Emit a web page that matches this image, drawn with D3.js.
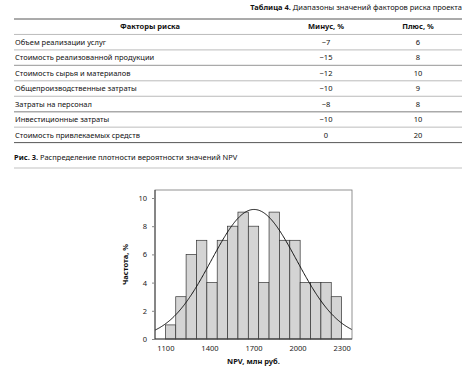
<!DOCTYPE html>
<html>
<head>
<meta charset="utf-8">
<script src="https://cdn.jsdelivr.net/npm/d3@7"></script>
<style>
  body { margin: 0; background: #fff; }
  svg { font-family: "Noto Sans", "Open Sans", sans-serif; }
</style>
</head>
<body>
<svg id="page" width="466" height="369"></svg>
<script>
// table data
var factors = ["Объем реализации услуг", "Стоимость реализованной продукции",
  "Стоимость сырья и материалов", "Общепроизводственные затраты",
  "Затраты на персонал", "Инвестиционные затраты", "Стоимость привлекаемых средств"];
var minus = ["\u22127", "\u221215", "\u221212", "\u221210", "\u22128", "\u221210", "0"];
var plus = [6, 8, 10, 9, 8, 10, 20];
var headers = ["Факторы риска", "Минус, %", "Плюс, %"];

// histogram data
var binStart = 1100, binEnd = 2300;
var freq = [1, 3, 6, 7, 4, 7, 8, 9, 8, 4, 9, 7, 7, 4, 4, 4, 3];
var xTicks = [1100, 1400, 1700, 2000, 2300];
var yTicks = [0, 2, 4, 6, 8, 10];

var svg = d3.select("#page");

// ---- table ----
var tLeft = 14, tRight = 462, tTop = 19, rowH = 15.45;
var colX = [15, 150, 326, 418];

var title = svg.append("text").attr("x", tRight).attr("y", 10)
  .attr("text-anchor", "end").attr("font-size", 7.5).attr("fill", "#111");
title.append("tspan").attr("font-weight", "bold").text("Таблица 4.");
title.append("tspan").text(" Диапазоны значений факторов риска проекта");

var nLines = factors.length + 2;
for (var i = 0; i < nLines; i++) {
  var y = tTop + i * rowH;
  var edge = (i === 0 || i === nLines - 1);
  svg.append("line").attr("x1", tLeft).attr("x2", tRight).attr("y1", y).attr("y2", y)
    .attr("stroke", edge ? "#444" : "#aaa").attr("stroke-width", edge ? 0.9 : (i % 3 === 0 ? 1.4 : 0.8));
}

svg.selectAll(".hdr").data(headers).enter().append("text")
  .attr("class", "hdr")
  .attr("x", function(d, i) { return colX[i + 1]; })
  .attr("y", tTop + rowH / 2 + 2.7)
  .attr("text-anchor", "middle").attr("font-size", 7.5).attr("font-weight", "bold")
  .attr("fill", "#111").text(function(d) { return d; });

var rows = svg.selectAll(".row").data(factors).enter().append("g")
  .attr("transform", function(d, i) { return "translate(0," + (tTop + (i + 1) * rowH + rowH / 2 + 2.7) + ")"; });
rows.append("text").attr("x", colX[0]).attr("font-size", 7.5).attr("fill", "#111")
  .text(function(d) { return d; });
rows.append("text").attr("x", colX[2]).attr("text-anchor", "middle").attr("font-size", 7.5).attr("fill", "#111")
  .text(function(d, i) { return minus[i]; });
rows.append("text").attr("x", colX[3]).attr("text-anchor", "middle").attr("font-size", 7.5).attr("fill", "#111")
  .text(function(d, i) { return plus[i]; });

// ---- figure caption ----
var cap = svg.append("text").attr("x", 14).attr("y", 160).attr("font-size", 7.5).attr("fill", "#111");
cap.append("tspan").attr("font-weight", "bold").text("Рис. 3.");
cap.append("tspan").text(" Распределение плотности вероятности значений NPV");
svg.append("line").attr("x1", tLeft).attr("x2", tRight).attr("y1", 168).attr("y2", 168)
  .attr("stroke", "#999").attr("stroke-width", 0.6);

// ---- histogram ----
var binW = (binEnd - binStart) / freq.length;
var bins = freq.map(function(f, i) { return {x0: binStart + i * binW, x1: binStart + (i + 1) * binW, f: f}; });

var pl = 155, pr = 352, pt = 190, pb = 339;
var x = d3.scaleLinear().domain([binStart - binW, binEnd + binW]).range([pl, pr]);
var yS = d3.scaleLinear().domain([0, 10]).range([pb, 198]);

var g = svg.append("g");

g.selectAll(".bar").data(bins).enter().append("rect")
  .attr("x", function(d) { return x(d.x0); })
  .attr("width", function(d) { return x(d.x1) - x(d.x0); })
  .attr("y", function(d) { return yS(d.f); })
  .attr("height", function(d) { return yS(0) - yS(d.f); })
  .attr("fill", "#d4d4d4").attr("stroke", "#333").attr("stroke-width", 0.7);

// normal curve fitted to the histogram
var total = d3.sum(freq);
var mu = d3.sum(bins, function(d) { return d.f * (d.x0 + d.x1) / 2; }) / total;
var sd = Math.sqrt(d3.sum(bins, function(d) { var c = (d.x0 + d.x1) / 2 - mu; return d.f * c * c; }) / total);
var curvePts = d3.range(x.domain()[0], x.domain()[1] + 1, 5).map(function(v) {
  return [v, total * binW / (sd * Math.sqrt(2 * Math.PI)) * Math.exp(-(v - mu) * (v - mu) / (2 * sd * sd))];
});
g.append("path").datum(curvePts)
  .attr("d", d3.line().x(function(d) { return x(d[0]); }).y(function(d) { return yS(d[1]); }))
  .attr("fill", "none").attr("stroke", "#111").attr("stroke-width", 1);

// frame
g.append("rect").attr("x", pl).attr("y", pt).attr("width", pr - pl).attr("height", pb - pt)
  .attr("fill", "none").attr("stroke", "#777").attr("stroke-width", 0.8);
g.append("line").attr("x1", pl).attr("x2", pl).attr("y1", pt).attr("y2", pb).attr("stroke", "#222").attr("stroke-width", 0.8);
g.append("line").attr("x1", pl).attr("x2", pr).attr("y1", pb).attr("y2", pb).attr("stroke", "#222").attr("stroke-width", 0.8);

var yAxis = g.append("g").attr("transform", "translate(" + pl + ",0)")
  .call(d3.axisLeft(yS).tickValues(yTicks).tickSize(3).tickPadding(5));
yAxis.select(".domain").remove();
yAxis.selectAll("line").attr("stroke", "#888");
yAxis.selectAll("text").attr("font-size", 7.5).attr("fill", "#222").attr("font-family", "Noto Sans");

var xAxis = g.append("g").attr("transform", "translate(0," + pb + ")")
  .call(d3.axisBottom(x).tickValues(xTicks).tickFormat(d3.format("d")).tickSize(0).tickPadding(7));
xAxis.select(".domain").remove();
xAxis.selectAll("text").attr("font-size", 7.5).attr("fill", "#222").attr("font-family", "Noto Sans");

g.append("text").attr("x", (pl + pr) / 2).attr("y", 364).attr("text-anchor", "middle")
  .attr("font-size", 7.5).attr("font-weight", "bold").attr("fill", "#111").text("NPV, млн руб.");
g.append("text").attr("transform", "translate(128," + ((pt + pb) / 2) + ") rotate(-90)")
  .attr("text-anchor", "middle").attr("font-size", 7.5).attr("font-weight", "bold").attr("fill", "#111")
  .text("Частота, %");
</script>
</body>
</html>
